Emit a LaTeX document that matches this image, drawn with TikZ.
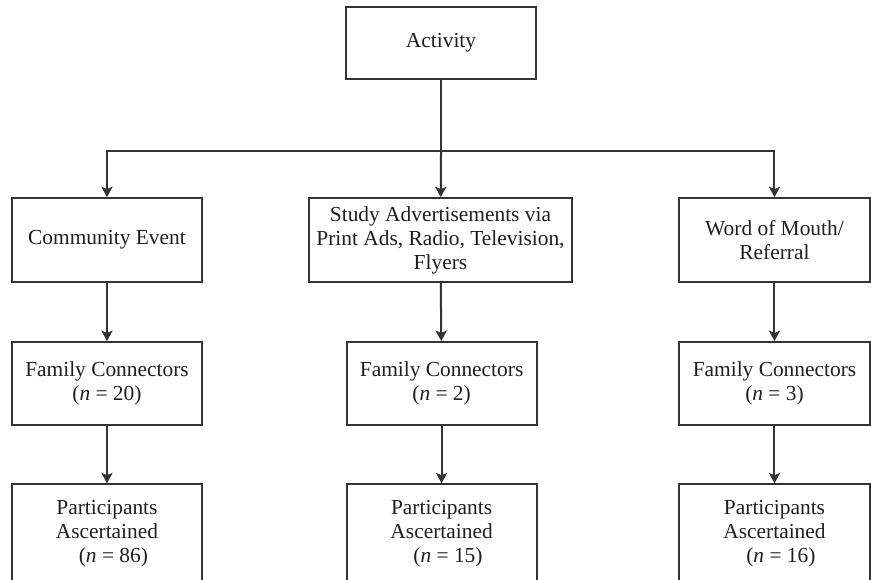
\documentclass[tikz,border=0pt]{standalone}
\usepackage{fontspec}
\setmainfont{Liberation Serif}
\usetikzlibrary{arrows.meta,positioning,calc}
\definecolor{lineDraw}{HTML}{333333}
\definecolor{textCol}{HTML}{1E1E1E}
\tikzset{
  font=\fontsize{10.7}{12}\selectfont,
  box/.style  ={draw=lineDraw, align=center, inner sep=3pt, line width=1pt, text=textCol, minimum width=3.34cm},
  src/.style  ={box, minimum height=1.476cm},
  fam/.style  ={box, minimum height=1.46cm},
  part/.style ={box, minimum height=1.72cm},
  arr/.style  ={-{Stealth[length=5.2pt,width=5.6pt,inset=1.2pt]}, line width=1pt, draw=lineDraw},
}

\begin{document}
\begin{tikzpicture}
  \useasboundingbox (0,0) rectangle (15.306,-10.175);
  \clip (0,0) rectangle (15.306,-10.175);
  % top: the activity that splits into three recruitment routes
  \node[box, minimum height=1.265cm] (act) at (7.75,-0.756) {Activity};
  \coordinate (split) at (7.75,-2.653);

  % recruitment routes
  \node[src] (evt)                        at (1.88,-4.22)  {Community Event};
  \node[src, minimum width=4.62cm] (ads)  at (7.74,-4.22)  {Study Advertisements via\\Print Ads, Radio, Television,\\Flyers};
  \node[src, minimum width=3.36cm] (wom)  at (13.61,-4.22) {Word of Mouth/\\Referral};

  % family connectors per route
  \node[fam] (fcEvt) at (1.88,-6.74)  {Family Connectors\\(\textit{n} = 20)};
  \node[fam] (fcAds) at (7.76,-6.74)  {Family Connectors\\(\textit{n} = 2)};
  \node[fam, minimum width=3.36cm] (fcWom) at (13.61,-6.74) {Family Connectors\\(\textit{n} = 3)};

  % participants ascertained (bottom edge runs off the page)
  \node[part] (ptEvt) at (1.88,-9.37)  {Participants\\Ascertained\\\hspace{0.6em}(\textit{n} = 86)};
  \node[part] (ptAds) at (7.76,-9.37)  {Participants\\Ascertained\\\hspace{0.6em}(\textit{n} = 15)};
  \node[part, minimum width=3.36cm] (ptWom) at (13.61,-9.37) {Participants\\Ascertained\\\hspace{0.6em}(\textit{n} = 16)};

  \draw[line width=1pt, draw=lineDraw] (act) -- (split);
  \draw[arr] (split) -| (evt);
  \draw[arr] (split) -- (ads);
  \draw[arr] (split) -| (wom);

  \draw[arr] (evt) -- (fcEvt);
  \draw[arr] (ads) -- (fcAds);
  \draw[arr] (wom) -- (fcWom);
  \draw[arr] (fcEvt) -- (ptEvt);
  \draw[arr] (fcAds) -- (ptAds);
  \draw[arr] (fcWom) -- (ptWom);
\end{tikzpicture}
\end{document}
